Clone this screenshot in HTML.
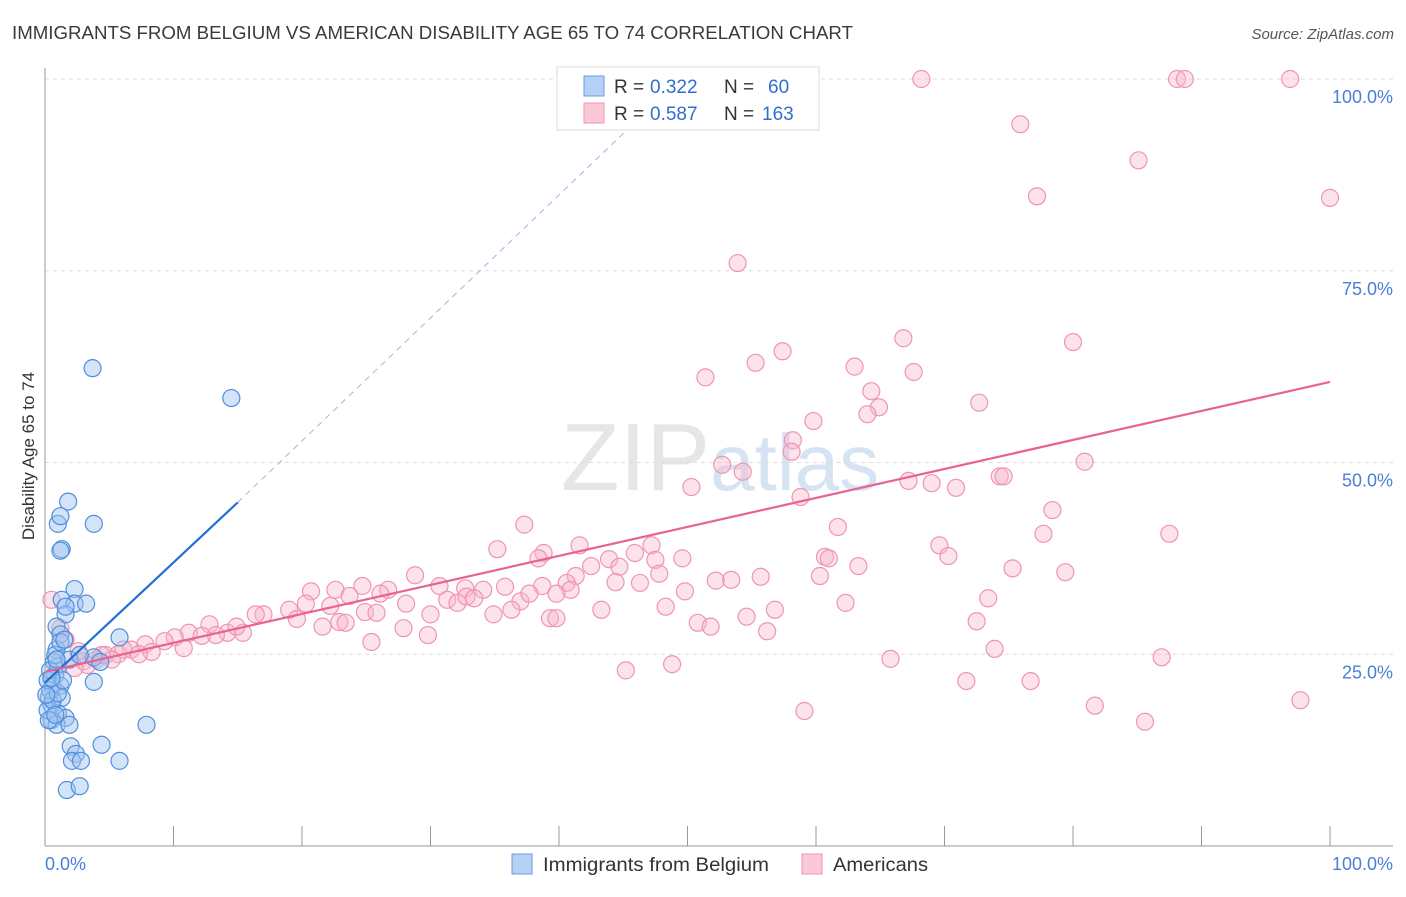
<!DOCTYPE html>
<html><head><meta charset="utf-8"><style>
body{margin:0;background:#fff;font-family:"Liberation Sans",sans-serif;}
svg text{font-family:"Liberation Sans",sans-serif;}
</style></head><body>
<svg id="chart" width="1406" height="892">
<text x="12" y="39" font-size="18" fill="#3a3a3a" textLength="841" lengthAdjust="spacingAndGlyphs">IMMIGRANTS FROM BELGIUM VS AMERICAN DISABILITY AGE 65 TO 74 CORRELATION CHART</text>
<text x="1394" y="39" font-size="15" fill="#555" text-anchor="end" font-style="italic">Source: ZipAtlas.com</text>
<text x="720" y="490" font-size="96" fill="#e6e6e6" text-anchor="middle" font-family="Liberation Serif">ZIP<tspan fill="#d6e3f3" font-family="Liberation Sans" font-size="80">atlas</tspan></text>
<g id="grid"></g><g id="axes"></g><g id="pts"></g><g id="lines"></g>
<text transform="translate(34,456) rotate(-90)" font-size="17" fill="#333" text-anchor="middle">Disability Age 65 to 74</text>
<text x="45" y="870" font-size="18" fill="#4a7fd8">0.0%</text>
<text x="1393" y="870" font-size="18" fill="#4a7fd8" text-anchor="end">100.0%</text>
<g>
<rect x="557" y="67" width="262" height="63" fill="#fff" stroke="#ddd"/>
<rect x="584" y="76" width="20" height="20" fill="#b4d0f5" stroke="#6a9de0"/>
<rect x="584" y="103" width="20" height="20" fill="#fac8d6" stroke="#f095b3"/>
<text x="614" y="93" font-size="19" fill="#333">R =</text>
<text x="650" y="93" font-size="19" fill="#2f6fd0">0.322</text>
<text x="724" y="93" font-size="19" fill="#333">N =</text>
<text x="768" y="93" font-size="19" fill="#2f6fd0">60</text>
<text x="614" y="120" font-size="19" fill="#333">R =</text>
<text x="650" y="120" font-size="19" fill="#2f6fd0">0.587</text>
<text x="724" y="120" font-size="19" fill="#333">N =</text>
<text x="762" y="120" font-size="19" fill="#2f6fd0">163</text>
</g>
<g>
<rect x="512" y="854" width="20" height="20" fill="#b4d0f5" stroke="#6a9de0"/>
<text x="543" y="871" font-size="19" fill="#333" textLength="226" lengthAdjust="spacingAndGlyphs">Immigrants from Belgium</text>
<rect x="802" y="854" width="20" height="20" fill="#fac8d6" stroke="#f095b3"/>
<text x="833" y="871" font-size="19" fill="#333" textLength="95" lengthAdjust="spacingAndGlyphs">Americans</text>
</g>
</svg>
<script>
const yTicks=[25,50,75,100];
const yTickLabels=["25.0%","50.0%","75.0%","100.0%"];
const xTicks=[0,10,20,30,40,50,60,70,80,90,100];
const blueX=[3.7,14.5,1.8,1.0,3.8,1.2,1.3,1.2,2.3,1.3,2.3,3.2,1.6,1.6,0.9,1.2,5.8,0.9,3.8,0.7,1.0,0.8,0.6,1.2,3.8,0.3,1.3,0.5,1.0,1.6,0.5,0.9,1.9,7.9,2.0,4.4,2.4,2.1,2.8,5.8,1.7,2.7,0.4,0.2,0.4,0.8,1.2,0.2,0.6,1.0,1.4,1.9,2.7,0.1,0.5,0.9,1.5,0.3,0.8,4.3];
const blueY=[62.3,58.4,44.9,42.0,42.0,43.0,38.7,38.5,33.5,32.1,31.6,31.6,30.2,31.2,28.6,27.6,27.2,25.6,24.6,24.0,23.4,22.3,20.9,20.9,21.4,19.4,19.3,18.4,17.3,16.7,16.4,15.8,15.8,15.8,13.0,13.2,12.0,11.1,11.1,11.1,7.3,7.8,20.3,21.6,22.9,24.9,26.6,17.7,19.0,19.9,21.6,24.3,24.9,19.7,21.9,24.3,26.9,16.4,17.1,24.0];
const pinkX=[68.2,88.1,88.7,96.9,75.9,85.1,77.2,100,53.9,66.8,80.0,57.4,55.3,51.4,63.0,67.6,64.3,64.9,72.7,64.0,59.8,58.2,58.1,52.7,54.3,80.9,50.3,67.2,69.0,70.9,74.3,74.6,58.8,78.4,77.7,61.7,37.3,35.2,38.8,38.4,41.6,43.9,45.9,47.2,47.5,49.6,41.3,42.5,44.7,40.6,44.4,47.8,46.3,69.6,70.3,60.7,61.0,63.3,75.3,79.4,60.3,55.7,52.2,53.4,49.8,40.9,38.7,35.8,28.8,26.7,22.6,20.7,30.7,32.7,34.1,31.3,32.1,32.8,33.4,34.9,37.0,37.7,39.8,43.3,48.3,56.8,62.3,73.4,30.0,28.1,26.1,24.7,23.7,24.9,25.8,22.2,20.3,19.0,17.0,16.4,19.6,21.6,22.9,23.4,27.9,29.8,25.4,36.3,39.3,39.8,50.8,51.8,54.6,56.2,72.5,12.8,14.2,15.4,13.3,11.2,12.2,14.9,10.1,9.3,7.8,6.7,8.3,10.8,4.7,5.7,6.1,7.3,5.2,4.0,3.0,3.3,2.3,1.2,0.5,1.6,2.6,4.4,48.8,73.9,86.9,65.8,71.7,76.7,45.2,59.1,85.6,97.7,81.7,87.5];
const pinkY=[100,100,100,100,94.1,89.4,84.7,84.5,76.0,66.2,65.7,64.5,63.0,61.1,62.5,61.8,59.3,57.2,57.8,56.3,55.4,52.9,51.4,49.7,48.8,50.1,46.8,47.6,47.3,46.7,48.2,48.2,45.5,43.8,40.7,41.6,41.9,38.7,38.2,37.5,39.2,37.4,38.2,39.2,37.3,37.5,35.2,36.5,36.4,34.3,34.4,35.5,34.3,39.2,37.8,37.7,37.5,36.5,36.2,35.7,35.2,35.1,34.6,34.7,33.2,33.4,33.9,33.8,35.3,33.4,33.4,33.2,33.9,33.6,33.4,32.1,31.7,32.5,32.3,30.2,31.9,32.9,32.9,30.8,31.2,30.8,31.7,32.3,30.2,31.6,32.9,33.9,32.6,30.5,30.4,31.3,31.6,30.8,30.2,30.2,29.6,28.6,29.2,29.1,28.4,27.5,26.6,30.8,29.7,29.7,29.1,28.6,29.9,28.0,29.3,28.9,27.8,27.8,27.5,27.8,27.4,28.6,27.2,26.7,26.3,25.6,25.3,25.8,24.9,25.0,25.6,25.0,24.3,24.3,24.1,23.6,23.2,28.4,32.1,26.9,25.4,24.9,23.7,25.7,24.6,24.4,21.5,21.5,22.9,17.6,16.2,19.0,18.3,40.7,22.0];
const blueLine=[[0,21.3],[15,44.8]];
const blueDash=[[15,44.8],[46,94.5]];
const pinkLine=[[0,22.7],[100,60.5]];
const NS='http://www.w3.org/2000/svg';
const X0=45,X1=1330,Ytop=79,Ybot=846;
function sx(v){return X0+(X1-X0)*v/100;}
function sy(v){return Ybot-(Ybot-Ytop)*v/100;}
function mk(t,a,p){const e=document.createElementNS(NS,t);for(const k in a)e.setAttribute(k,a[k]);document.getElementById(p).appendChild(e);return e;}
yTicks.forEach((t,i)=>{
 const l=mk('line',{x1:X0,x2:1393,y1:sy(t),y2:sy(t),stroke:'#ddd','stroke-dasharray':'4,4'},'grid');
 
 
 const tx=mk('text',{x:1393,y:sy(t)+24,'font-size':18,fill:'#4a7fd8','text-anchor':'end'},'grid');
 tx.textContent=yTickLabels[i];
 
 
});
const ax=mk('line',{x1:X0,x2:X0,y1:68,y2:Ybot,stroke:'#999'},'axes');


const bx=mk('line',{x1:X0,x2:1393,y1:Ybot,y2:Ybot,stroke:'#999'},'axes');


xTicks.forEach(t=>{
 const l=mk('line',{x1:sx(t),x2:sx(t),y1:826,y2:Ybot,stroke:'#999'},'axes');
 
 
});
pinkX.forEach((v,i)=>{
 const c=mk('circle',{cx:sx(v),cy:sy(pinkY[i]),r:8.5,fill:'rgba(248,182,202,0.4)',stroke:'#f094b2','stroke-width':1.2},'pts');
 
 
});
blueX.forEach((v,i)=>{
 const c=mk('circle',{cx:sx(v),cy:sy(blueY[i]),r:8.5,fill:'rgba(160,196,240,0.45)',stroke:'#4f8fdd','stroke-width':1.2},'pts');
 
 
});
function ln(p,st,w,d,name){const e=mk('line',{x1:sx(p[0][0]),y1:sy(p[0][1]),x2:sx(p[1][0]),y2:sy(p[1][1]),stroke:st,'stroke-width':w},'lines');if(d)e.setAttribute('stroke-dasharray',d);
 
 }
ln(blueDash,'#9bb8dd',1,'6,5','belgium-trend-extension');
ln(blueLine,'#1f6fd6',2.2,null,'belgium-trend-line');
ln(pinkLine,'#e8638f',2.2,null,'americans-trend-line');
</script>
</body></html>
